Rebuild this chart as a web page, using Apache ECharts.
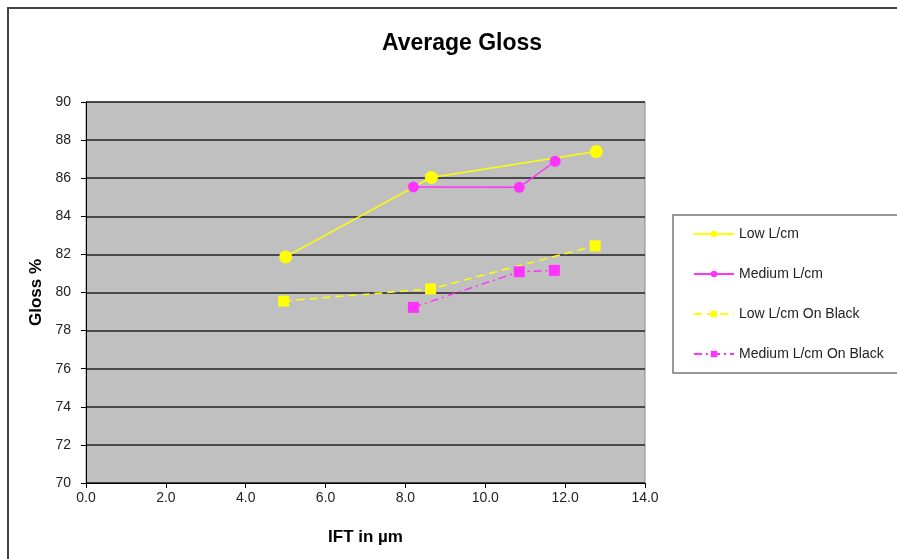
<!DOCTYPE html>
<html>
<head>
<meta charset="utf-8">
<script src="https://cdn.jsdelivr.net/npm/echarts@6/dist/echarts.min.js"></script>
<style>
html,body{margin:0;padding:0;background:#fff;}
#chart{width:897px;height:559px;}
</style>
</head>
<body>
<div id="chart"></div>
<script>
var titleText = 'Average Gloss';
var xAxisName = 'IFT in µm';
var yAxisName = 'Gloss %';
var seriesNames = ['Low L/cm', 'Medium L/cm', 'Low L/cm On Black', 'Medium L/cm On Black'];

var lowX = [5.0, 8.65, 12.78];
var lowY = [81.87, 86.04, 87.4];
var medX = [8.2, 10.85, 11.75];
var medY = [85.54, 85.52, 86.89];
var lowBlackX = [4.95, 8.63, 12.75];
var lowBlackY = [79.55, 80.19, 82.45];
var medBlackX = [8.2, 10.85, 11.73];
var medBlackY = [79.22, 81.09, 81.16];

function pairs(xs, ys) { return xs.map(function (x, i) { return [x, ys[i]]; }); }

var FONT = '"Liberation Sans", Arial, sans-serif';
var chart = echarts.init(document.getElementById('chart'), null, {renderer: 'canvas'});
chart.setOption({
  animation: false,
  backgroundColor: '#ffffff',
  title: {
    text: titleText,
    left: 457, top: 27, textAlign: 'center',
    textStyle: {fontFamily: FONT, fontSize: 23, fontWeight: 'bold', color: '#000'}
  },
  graphic: [{
    type: 'rect', silent: true, z: -1,
    shape: {x: 8, y: 8, width: 1000, height: 1000},
    style: {fill: 'none', stroke: '#444', lineWidth: 2}
  }],
  legend: {
    orient: 'vertical',
    left: 673, top: 215,
    padding: [12, 60, 12, 20],
    itemGap: 26,
    itemWidth: 40, itemHeight: 8,
    selectedMode: false,
    backgroundColor: '#fff',
    borderColor: '#777', borderWidth: 1.5,
    textStyle: {fontFamily: FONT, fontSize: 14, color: '#222', lineHeight: 14},
    data: seriesNames
  },
  grid: {left: 86, top: 102, width: 559, height: 381, show: true, backgroundColor: '#c0c0c0', borderColor: '#8a8a8a', borderWidth: 1},
  xAxis: {
    type: 'value', min: 0, max: 14, interval: 2,
    name: xAxisName, nameLocation: 'middle', nameGap: 46,
    nameTextStyle: {fontFamily: FONT, fontSize: 17, fontWeight: 'bold', color: '#000'},
    axisLine: {show: true, onZero: false, lineStyle: {color: '#000', width: 1}},
    axisTick: {show: true, length: 5, lineStyle: {color: '#000'}},
    axisLabel: {fontFamily: FONT, fontSize: 14, color: '#222', margin: 8, formatter: function (v) { return v.toFixed(1); }},
    splitLine: {show: false}
  },
  yAxis: {
    type: 'value', min: 70, max: 90, interval: 2,
    name: yAxisName, nameLocation: 'middle', nameGap: 41, nameRotate: 90,
    nameTextStyle: {fontFamily: FONT, fontSize: 17, fontWeight: 'bold', color: '#000'},
    axisLine: {show: true, onZero: false, lineStyle: {color: '#000', width: 1}},
    axisTick: {show: true, length: 5, lineStyle: {color: '#000'}},
    axisLabel: {fontFamily: FONT, fontSize: 14, color: '#222', margin: 15},
    splitLine: {show: true, lineStyle: {color: '#222', width: 1.5}}
  },
  series: [
    {
      name: seriesNames[0], type: 'line', data: pairs(lowX, lowY),
      symbol: 'circle', symbolSize: 13,
      itemStyle: {color: '#ffff00'},
      lineStyle: {color: '#ffff00', width: 1.5, type: 'solid'}
    },
    {
      name: seriesNames[1], type: 'line', data: pairs(medX, medY),
      symbol: 'circle', symbolSize: 11,
      itemStyle: {color: '#ff33ff'},
      lineStyle: {color: '#ff33ff', width: 1.5, type: 'solid'}
    },
    {
      name: seriesNames[2], type: 'line', data: pairs(lowBlackX, lowBlackY),
      symbol: 'rect', symbolSize: 11,
      itemStyle: {color: '#ffff00'},
      lineStyle: {color: '#ffff00', width: 1.5, type: [8, 5]}
    },
    {
      name: seriesNames[3], type: 'line', data: pairs(medBlackX, medBlackY),
      symbol: 'rect', symbolSize: 11,
      itemStyle: {color: '#ff33ff'},
      lineStyle: {color: '#ff33ff', width: 1.5, type: [8, 4, 2, 4]}
    }
  ]
});
</script>
</body>
</html>
